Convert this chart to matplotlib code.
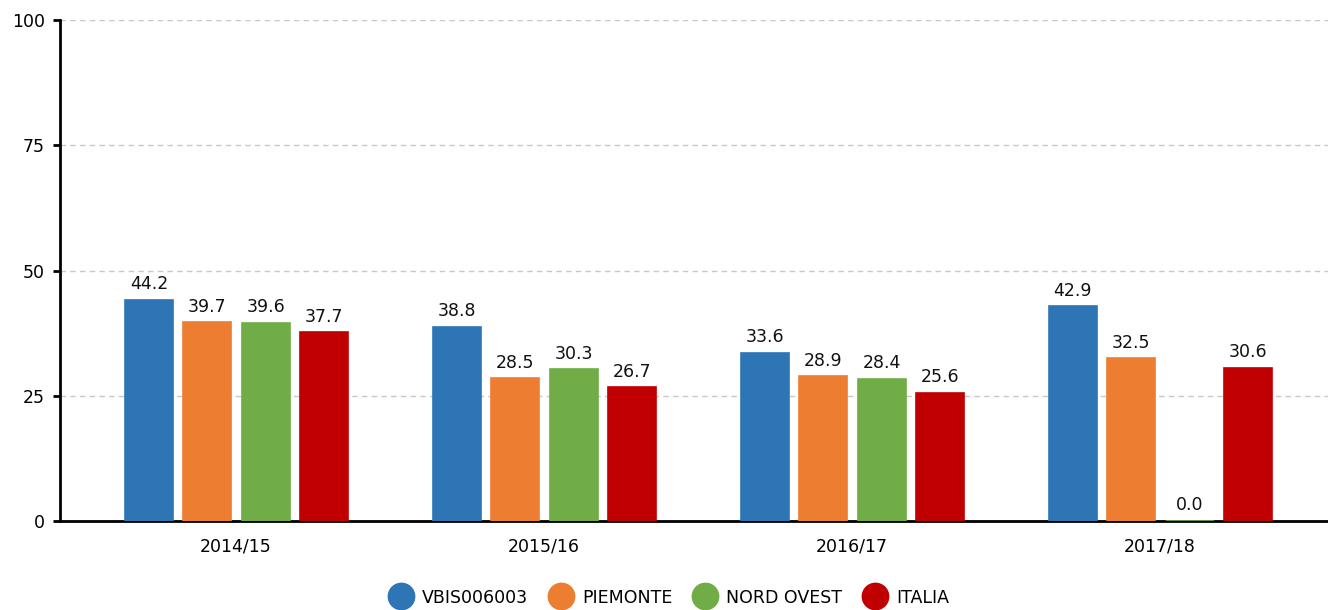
import numpy as np
import matplotlib.pyplot as plt
from matplotlib.lines import Line2D

years = ['2014/15', '2015/16', '2016/17', '2017/18']
series = ['VBIS006003', 'PIEMONTE', 'NORD OVEST', 'ITALIA']
vbis = [44.2, 38.8, 33.6, 42.9]
piemonte = [39.7, 28.5, 28.9, 32.5]
nord_ovest = [39.6, 30.3, 28.4, 0.0]
italia = [37.7, 26.7, 25.6, 30.6]
colors = ['#2E75B6', '#ED7D31', '#70AD47', '#C00000']

plt.rcParams['font.family'] = ['DejaVu Sans']

fig = plt.figure(figsize=(13.28, 6.10), dpi=100)
ax = fig.add_axes([60 / 1328, 89 / 610, 1276 / 1328, 501 / 610])

x = np.arange(len(years))
offsets = [-0.283, -0.094, 0.097, 0.286]
width = 0.156

for vals, off, c in zip([vbis, piemonte, nord_ovest, italia], offsets, colors):
    bars = ax.bar(x + off, vals, width, color=c, edgecolor=c, linewidth=1.2, zorder=3)
    for b, v in zip(bars, vals):
        ax.text(b.get_x() + b.get_width() / 2, v + 1.3, f'{v:.1f}',
                ha='center', va='bottom', fontsize=12.5, color='#111111', zorder=4)

ax.set_xlim(-0.5714, 3.5714)
ax.set_ylim(0, 100)
ax.set_yticks([0, 25, 50, 75, 100])
ax.set_xticks(x)
ax.set_xticklabels(years)
ax.tick_params(axis='x', length=0, labelsize=12.5, pad=12)
ax.tick_params(axis='y', length=5, width=2, labelsize=12.5, direction='out', pad=6)
ax.yaxis.grid(True, linestyle=(0, (4, 3)), color='#c8c8c8', linewidth=1, zorder=0)
for s in ['top', 'right']:
    ax.spines[s].set_visible(False)
ax.spines['left'].set_linewidth(2)
ax.spines['bottom'].set_linewidth(2)

handles = [Line2D([], [], marker='o', linestyle='', markersize=19, color=c) for c in colors]
fig.legend(handles, series, loc='lower center', ncol=4, frameon=False,
           bbox_to_anchor=(0.504, -0.020), fontsize=12.5, handletextpad=0.6,
           columnspacing=1.2, handlelength=1.3)

fig.savefig('out.png', dpi=100)
